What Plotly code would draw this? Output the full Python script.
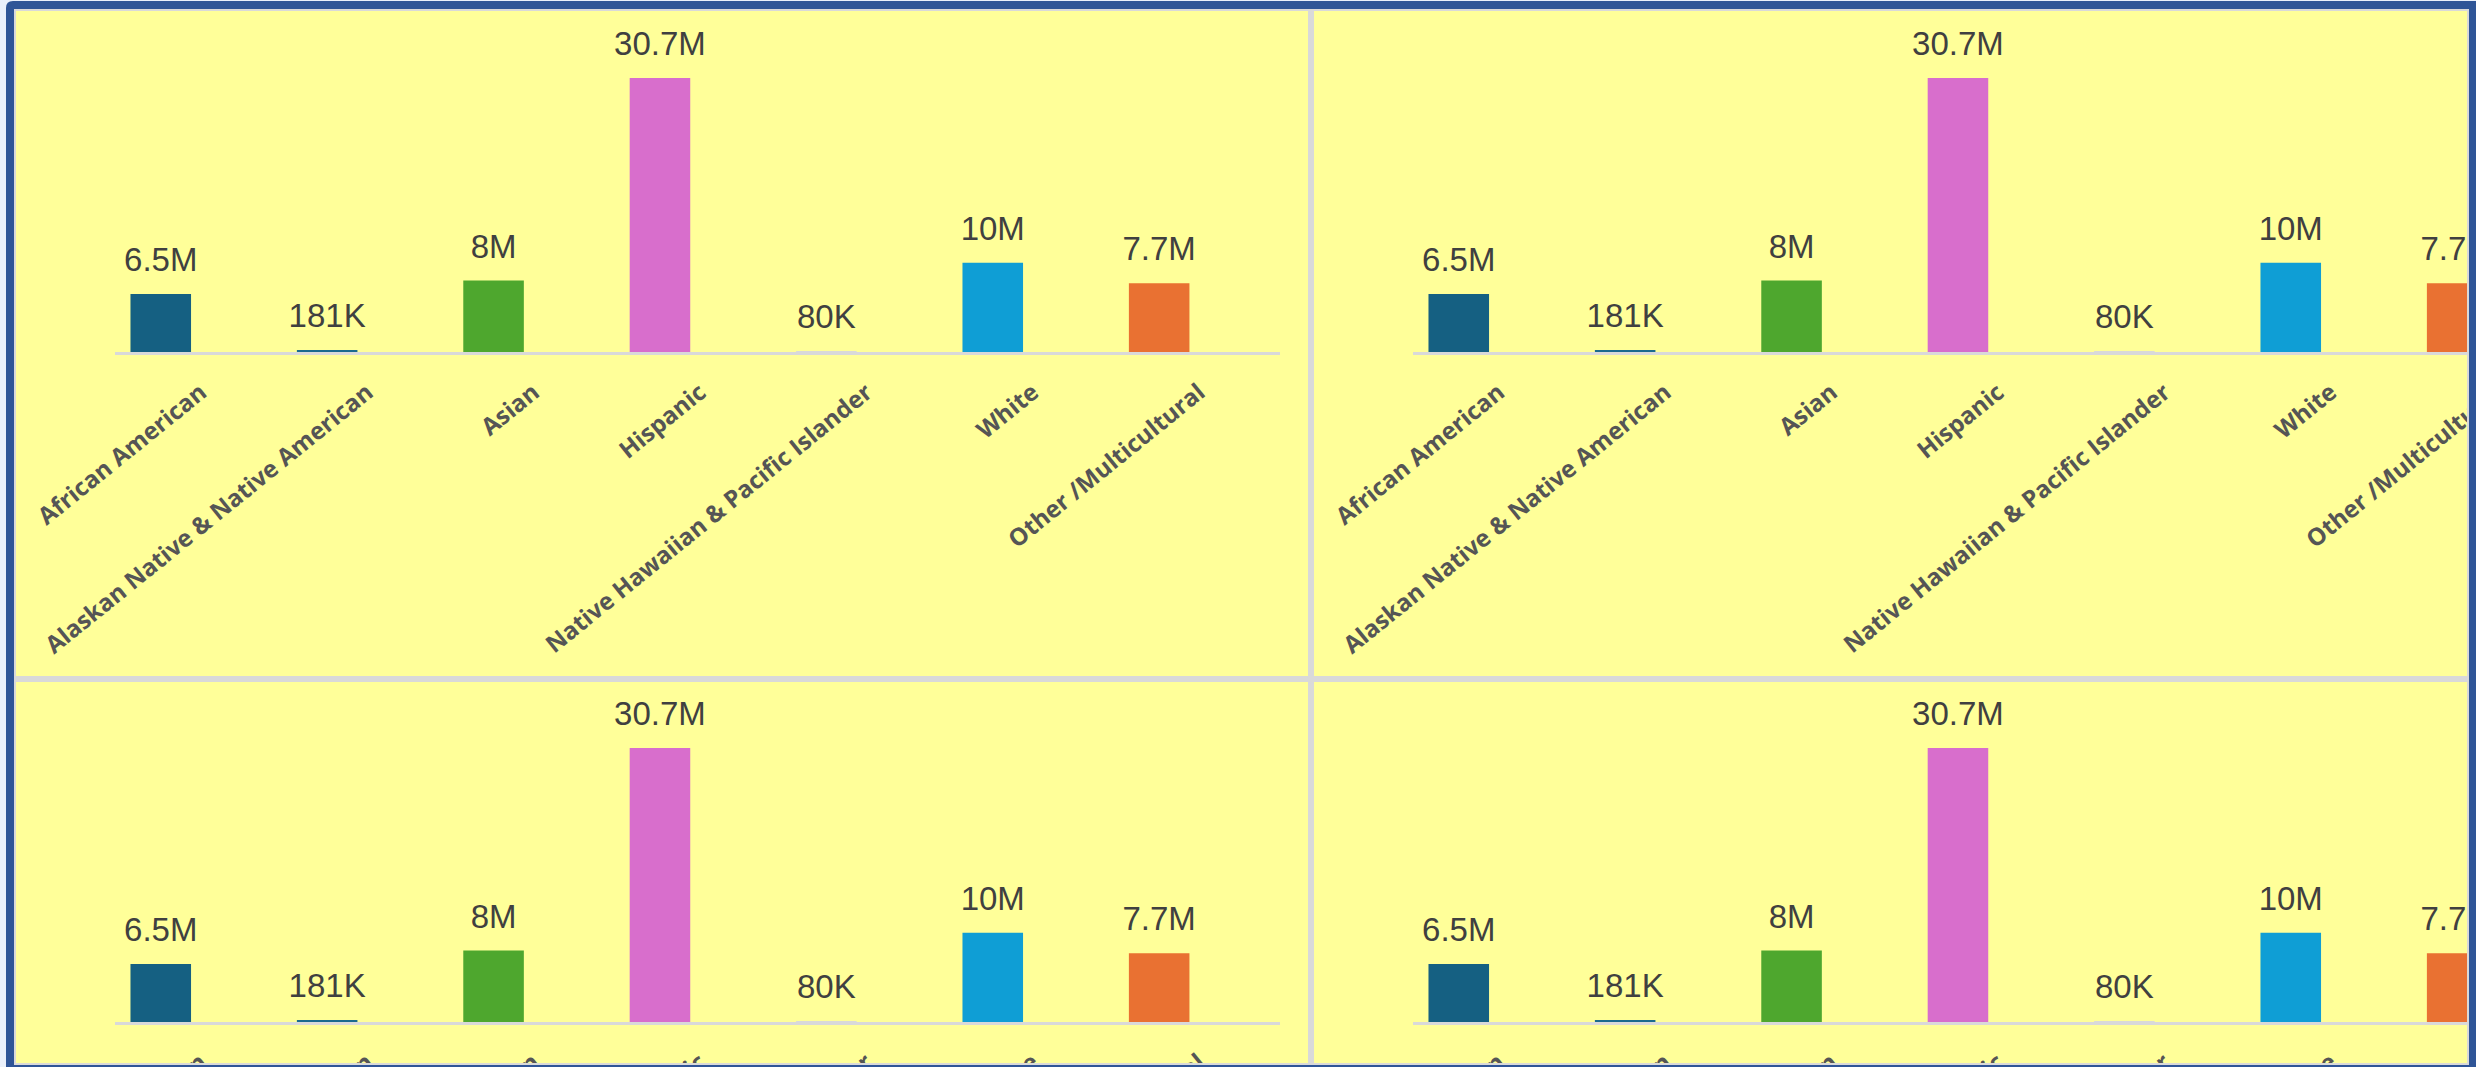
import plotly.graph_objects as go

# ---------------- data ----------------
categories = [
    "African American",
    "Alaskan Native & Native American",
    "Asian",
    "Hispanic",
    "Native Hawaiian & Pacific Islander",
    "White",
    "Other /Multicultural",
]
values = [6.5e6, 181e3, 8.0e6, 30.7e6, 80e3, 10.0e6, 7.7e6]
value_labels = ["6.5M", "181K", "8M", "30.7M", "80K", "10M", "7.7M"]
bar_colors = ["#156082", "#1A6A8E", "#4EA72E", "#D86ECC", "#D9D9D9", "#0F9ED5", "#E97132"]

# ---------------- layout helpers ----------------
W, H = 2476, 1067


def fx(px):
    return px / W


def fy(py):
    return 1 - py / H


def P(px, py):
    return f"{fx(px):.6f},{fy(py):.6f}"


YMAX = 38.2e6
X0 = -0.275
STEP = 166.4          # px per category
PX_PER_UNIT = 274 / 30.7e6

# panels: (left px, right px, baseline px)
panels = [
    (115, 1280, 352),
    (1413, W, 352),
    (115, 1280, 1022),
    (1413, W, 1022),
]

fig = go.Figure()

YELLOW = "#FFFF99"
SEP = "#D9D9D9"
BLUE = "#2F5597"

for i, (xl, xr, base) in enumerate(panels, start=1):
    xa = "x" if i == 1 else f"x{i}"
    ya = "y" if i == 1 else f"y{i}"
    fig.add_trace(go.Bar(
        x=categories, y=values, marker=dict(color=bar_colors, line=dict(width=0)),
        xaxis=xa, yaxis=ya, showlegend=False, hoverinfo="x+y",
    ))
    fig.add_trace(go.Scatter(
        x=categories, y=values, text=value_labels, mode="markers+text",
        textposition="top center",
        marker=dict(size=22, color="rgba(0,0,0,0)"),
        textfont=dict(family="Liberation Sans, Arial, sans-serif", size=33, color="#404040"),
        xaxis=xa, yaxis=ya, showlegend=False, hoverinfo="skip", cliponaxis=False,
    ))
    top_px = base - YMAX * PX_PER_UNIT
    x_end = X0 + (xr - xl) / STEP
    axis_x = dict(
        domain=[fx(xl), fx(xr)],
        range=[X0, x_end],
        anchor=ya,
        automargin=False,
        showline=True, linecolor=SEP, linewidth=3,
        showgrid=False, zeroline=False, ticks="",
        tickangle=-39,
        tickfont=dict(family="Open Sans, Noto Sans, sans-serif", size=24, color="#555555", weight="bold"),
        ticklabelshift=40, ticklabelstandoff=14,
        fixedrange=True,
    )
    axis_y = dict(
        domain=[fy(base), fy(top_px)],
        range=[0, YMAX],
        anchor=xa,
        automargin=False,
        visible=False, showgrid=False, zeroline=False, fixedrange=True,
    )
    fig.update_layout(**{("xaxis" if i == 1 else f"xaxis{i}"): axis_x,
                         ("yaxis" if i == 1 else f"yaxis{i}"): axis_y})

shapes = [
    # yellow canvas
    dict(type="rect", xref="paper", yref="paper", layer="below",
         x0=fx(14), x1=fx(2469), y0=fy(1065), y1=fy(9), fillcolor=YELLOW, line=dict(width=0)),
    # separators
    dict(type="rect", xref="paper", yref="paper", layer="below",
         x0=fx(1308), x1=fx(1314), y0=fy(1065), y1=fy(9), fillcolor=SEP, line=dict(width=0)),
    dict(type="rect", xref="paper", yref="paper", layer="below",
         x0=fx(14), x1=fx(2469), y0=fy(682), y1=fy(676), fillcolor=SEP, line=dict(width=0)),
    # inner light line
    dict(type="rect", xref="paper", yref="paper", layer="above",
         x0=fx(15), x1=fx(2468), y0=fy(1064), y1=fy(10), fillcolor="rgba(0,0,0,0)",
         line=dict(color=SEP, width=2)),
]
r = 7
frame = (
    f"M {P(6, 1 + r)} Q {P(6, 1)} {P(6 + r, 1)} L {P(2490, 1)} L {P(2490, 1080)} L {P(6, 1080)} Z "
    f"M {P(14, 9)} L {P(2469, 9)} L {P(2469, 1065)} L {P(14, 1065)} Z"
)
shapes.append(dict(type="path", xref="paper", yref="paper", layer="above", path=frame,
                   fillcolor=BLUE, fillrule="evenodd", line=dict(width=0)))

fig.update_layout(
    width=W, height=H,
    margin=dict(l=0, r=0, t=0, b=0, pad=0, autoexpand=False),
    paper_bgcolor="#EAF0FB",
    plot_bgcolor="rgba(0,0,0,0)",
    bargap=0.636,
    shapes=shapes,
    showlegend=False,
)

fig.write_html(
    "out.html",
    config={"displayModeBar": False},
    post_script="document.body.style.margin='0';document.body.style.overflow='hidden';",
)
